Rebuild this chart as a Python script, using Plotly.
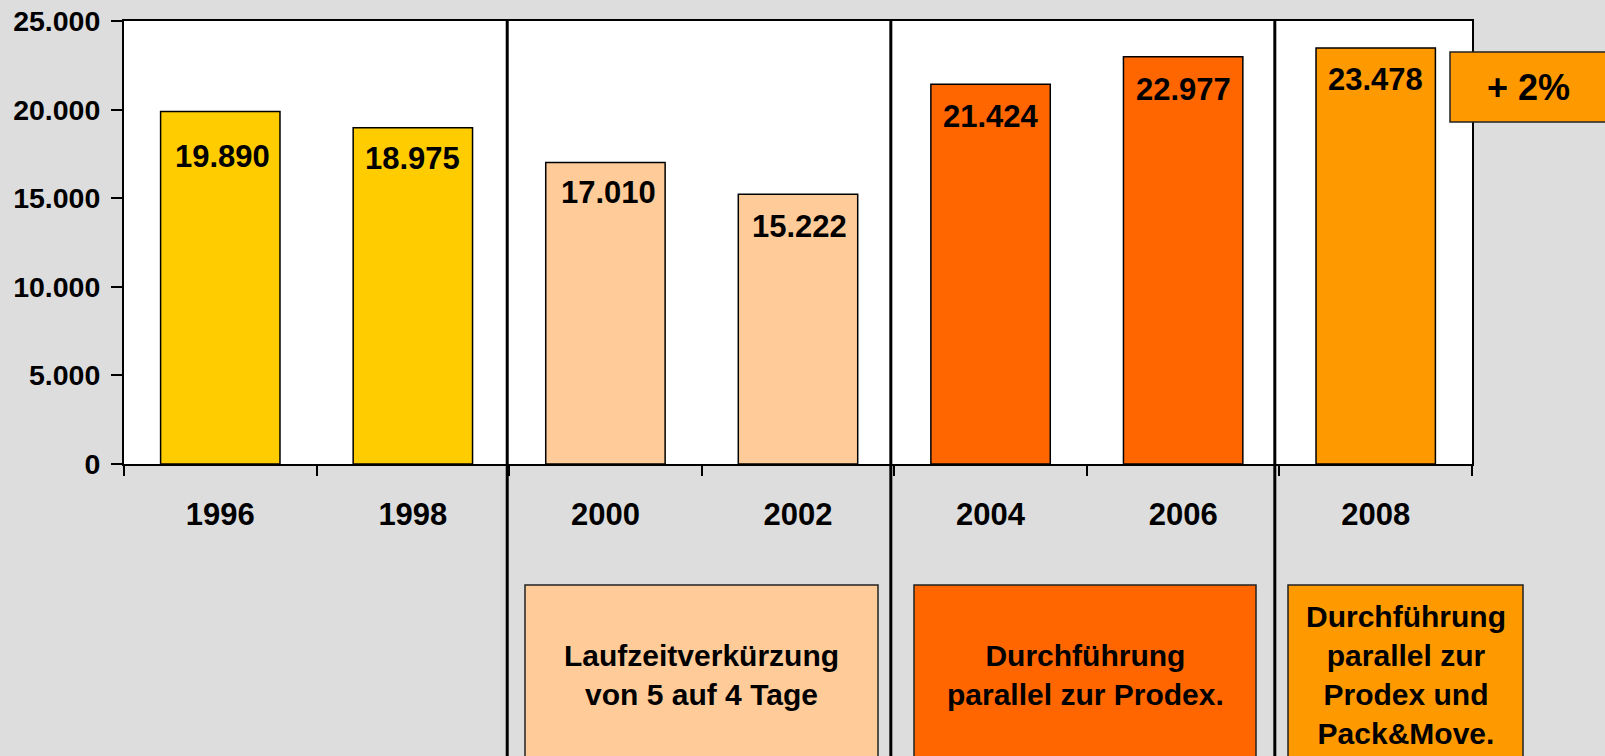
import plotly.graph_objects as go

# ---- data ----
years = ["1996", "1998", "2000", "2002", "2004", "2006", "2008"]
values = [19890, 18975, 17010, 15222, 21424, 22977, 23478]
bar_colors = ["#FFCC00", "#FFCC00", "#FFCC99", "#FFCC99", "#FF6600", "#FF6600", "#FF9900"]
y_tickvals = [0, 5000, 10000, 15000, 20000, 25000]
y_ticktext = ["0", "5.000", "10.000", "15.000", "20.000", "25.000"]
box_texts = [
    "Laufzeitverkürzung<br>von 5 auf 4 Tage",
    "Durchführung<br>parallel zur Prodex.",
    "Durchführung<br>parallel zur<br>Prodex und<br>Pack&Move.",
]
box_colors = ["#FFCC99", "#FF6600", "#FF9900"]
growth_text = "+ 2%"

# ---- style / layout helpers ----
FONT = "Liberation Sans, Arial, sans-serif"
label_yshift = [-45, -31, -30, -32, -32, -33, -32]
label_xshift = [2, 0, 3, 1, 0, 0, 0]

W, H = 1605, 756
L, R, T, B = 124, 133, 21, 292
pw = W - L - R
ph = H - T - B

def px_to_paper_x(px):
    return (px - L) / pw

def px_to_paper_y(py):
    return (H - B - py) / ph

fig = go.Figure()
fig.add_trace(go.Bar(
    x=years, y=values, width=0.62,
    marker=dict(color=bar_colors, line=dict(color="black", width=1.5)),
    hoverinfo="skip",
))

# value labels (category index positions)
for i, v in enumerate(values):
    fig.add_annotation(
        x=i, y=v, xref="x", yref="y",
        text=f"{v:,}".replace(",", "."),
        showarrow=False, yanchor="middle", xanchor="center",
        yshift=label_yshift[i], xshift=label_xshift[i],
        font=dict(family=FONT, size=31, color="black", weight="bold"),
    )

shapes = []
# group separators
for xpos in [1.49, 3.482, 5.476]:
    shapes.append(dict(type="line", xref="x", yref="paper", x0=xpos, x1=xpos,
                       y0=1, y1=px_to_paper_y(H + 5), line=dict(color="black", width=3),
                       layer="above"))

# bottom boxes (pixel extents)
box_px = [(525, 878), (914, 1256), (1288, 1523)]
for (x0, x1), col, txt in zip(box_px, box_colors, box_texts):
    shapes.append(dict(type="rect", xref="paper", yref="paper",
                       x0=px_to_paper_x(x0), x1=px_to_paper_x(x1),
                       y0=px_to_paper_y(585), y1=px_to_paper_y(H + 5),
                       fillcolor=col, line=dict(color="#222222", width=1.5), layer="above"))
    fig.add_annotation(
        x=px_to_paper_x((x0 + x1) / 2), y=px_to_paper_y(674.5), xref="paper", yref="paper",
        text=txt, showarrow=False, xanchor="center", yanchor="middle", align="center",
        font=dict(family=FONT, size=30, color="black", weight="bold"),
    )

# +2% box
shapes.append(dict(type="rect", xref="paper", yref="paper",
                   x0=px_to_paper_x(1450), x1=px_to_paper_x(W + 10),
                   y0=px_to_paper_y(122), y1=px_to_paper_y(52),
                   fillcolor="#FF9900", line=dict(color="#222222", width=1.5), layer="above"))
fig.add_annotation(
    x=px_to_paper_x(1528), y=px_to_paper_y(87), xref="paper", yref="paper",
    text=growth_text, showarrow=False, xanchor="center", yanchor="middle",
    font=dict(family=FONT, size=36, color="black", weight="bold"),
)

fig.update_layout(
    width=W, height=H, autosize=False,
    margin=dict(l=L, r=R, t=T, b=B, pad=0, autoexpand=False),
    paper_bgcolor="#DDDDDD", plot_bgcolor="white",
    showlegend=False,
    shapes=shapes,
)
fig.update_xaxes(
    type="category", range=[-0.5, 6.5], automargin=False,
    showline=True, linecolor="black", linewidth=2, mirror=True,
    ticks="outside", tickson="boundaries", ticklen=10, tickcolor="black", tickwidth=2,
    ticklabelstandoff=22,
    tickfont=dict(family=FONT, size=31, color="black", weight="bold"),
    showgrid=False, zeroline=False, fixedrange=True,
)
fig.update_yaxes(
    range=[0, 25000], tickvals=y_tickvals, ticktext=y_ticktext, automargin=False,
    showline=True, linecolor="black", linewidth=2, mirror=True,
    ticks="outside", ticklen=11, tickcolor="black", tickwidth=2,
    ticklabelstandoff=5,
    tickfont=dict(family=FONT, size=28.5, color="black", weight="bold"),
    showgrid=False, zeroline=False, fixedrange=True,
)

fig.write_html("out.html", config={"displayModeBar": False},
               post_script="document.body.style.margin='0';document.body.style.overflow='hidden';")
